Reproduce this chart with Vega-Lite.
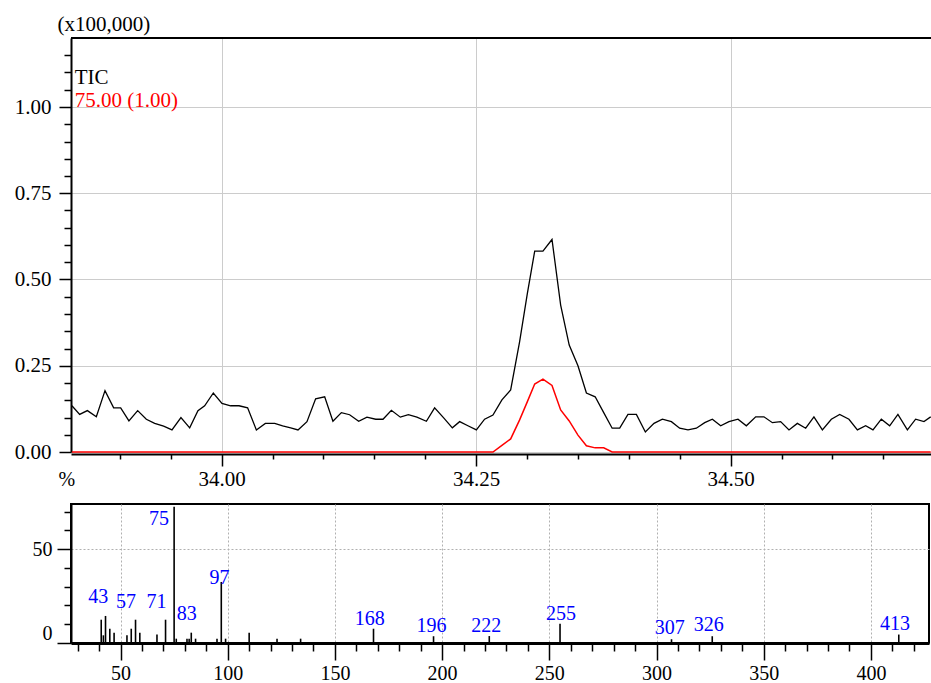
{
  "$schema": "https://vega.github.io/schema/vega-lite/v6.json",
  "autosize": {"type": "pad"},
  "padding": {"left": 14, "top": 13, "right": 0, "bottom": 0},
  "background": "white",
  "bounds": "flush",
  "spacing": 52,
  "config": {
    "font": "Liberation Serif",
    "view": {"stroke": null},
    "axis": {
      "labelFont": "Liberation Serif",
      "titleFont": "Liberation Serif",
      "labelColor": "black",
      "tickColor": "black",
      "domainColor": "black",
      "titleColor": "black",
      "titleFontWeight": "normal",
      "labelOverlap": false,
      "labelFlush": false,
      "domainWidth": 2,
      "tickWidth": 1.5
    }
  },
  "datasets": {
    "chrom": [
      {"t": 33.8529, "tic": 0.134, "ion75": 0},
      {"t": 33.8605, "tic": 0.109, "ion75": 0},
      {"t": 33.8681, "tic": 0.120, "ion75": 0},
      {"t": 33.8769, "tic": 0.102, "ion75": 0},
      {"t": 33.8854, "tic": 0.178, "ion75": 0},
      {"t": 33.8939, "tic": 0.128, "ion75": 0},
      {"t": 33.9008, "tic": 0.128, "ion75": 0},
      {"t": 33.9089, "tic": 0.090, "ion75": 0},
      {"t": 33.9175, "tic": 0.120, "ion75": 0},
      {"t": 33.9260, "tic": 0.095, "ion75": 0},
      {"t": 33.9342, "tic": 0.083, "ion75": 0},
      {"t": 33.9430, "tic": 0.075, "ion75": 0},
      {"t": 33.9512, "tic": 0.064, "ion75": 0},
      {"t": 33.9600, "tic": 0.100, "ion75": 0},
      {"t": 33.9686, "tic": 0.070, "ion75": 0},
      {"t": 33.9767, "tic": 0.120, "ion75": 0},
      {"t": 33.9833, "tic": 0.134, "ion75": 0},
      {"t": 33.9918, "tic": 0.171, "ion75": 0},
      {"t": 34.0003, "tic": 0.141, "ion75": 0},
      {"t": 34.0088, "tic": 0.134, "ion75": 0},
      {"t": 34.0170, "tic": 0.134, "ion75": 0},
      {"t": 34.0255, "tic": 0.128, "ion75": 0},
      {"t": 34.0341, "tic": 0.064, "ion75": 0},
      {"t": 34.0429, "tic": 0.083, "ion75": 0},
      {"t": 34.0521, "tic": 0.083, "ion75": 0},
      {"t": 34.0599, "tic": 0.076, "ion75": 0},
      {"t": 34.0678, "tic": 0.070, "ion75": 0},
      {"t": 34.0750, "tic": 0.064, "ion75": 0},
      {"t": 34.0838, "tic": 0.088, "ion75": 0},
      {"t": 34.0923, "tic": 0.154, "ion75": 0},
      {"t": 34.1012, "tic": 0.160, "ion75": 0},
      {"t": 34.1093, "tic": 0.089, "ion75": 0},
      {"t": 34.1176, "tic": 0.114, "ion75": 0},
      {"t": 34.1257, "tic": 0.108, "ion75": 0},
      {"t": 34.1346, "tic": 0.089, "ion75": 0},
      {"t": 34.1427, "tic": 0.101, "ion75": 0},
      {"t": 34.1513, "tic": 0.095, "ion75": 0},
      {"t": 34.1585, "tic": 0.095, "ion75": 0},
      {"t": 34.1667, "tic": 0.121, "ion75": 0},
      {"t": 34.1755, "tic": 0.101, "ion75": 0},
      {"t": 34.1834, "tic": 0.108, "ion75": 0},
      {"t": 34.1918, "tic": 0.101, "ion75": 0},
      {"t": 34.2011, "tic": 0.089, "ion75": 0},
      {"t": 34.2092, "tic": 0.128, "ion75": 0},
      {"t": 34.2181, "tic": 0.099, "ion75": 0},
      {"t": 34.2266, "tic": 0.070, "ion75": 0},
      {"t": 34.2338, "tic": 0.088, "ion75": 0},
      {"t": 34.2419, "tic": 0.076, "ion75": 0},
      {"t": 34.2502, "tic": 0.064, "ion75": 0},
      {"t": 34.2583, "tic": 0.095, "ion75": 0},
      {"t": 34.2665, "tic": 0.107, "ion75": 0},
      {"t": 34.2753, "tic": 0.151, "ion75": 0.019},
      {"t": 34.2839, "tic": 0.180, "ion75": 0.038},
      {"t": 34.2927, "tic": 0.320, "ion75": 0.093},
      {"t": 34.3003, "tic": 0.460, "ion75": 0.146},
      {"t": 34.3075, "tic": 0.582, "ion75": 0.197},
      {"t": 34.3156, "tic": 0.582, "ion75": 0.211},
      {"t": 34.3245, "tic": 0.616, "ion75": 0.193},
      {"t": 34.3330, "tic": 0.426, "ion75": 0.122},
      {"t": 34.3414, "tic": 0.310, "ion75": 0.090},
      {"t": 34.3500, "tic": 0.250, "ion75": 0.049},
      {"t": 34.3583, "tic": 0.171, "ion75": 0.018},
      {"t": 34.3669, "tic": 0.160, "ion75": 0.012},
      {"t": 34.3753, "tic": 0.114, "ion75": 0.012},
      {"t": 34.3836, "tic": 0.069, "ion75": 0},
      {"t": 34.3910, "tic": 0.069, "ion75": 0},
      {"t": 34.3991, "tic": 0.109, "ion75": 0},
      {"t": 34.4074, "tic": 0.109, "ion75": 0},
      {"t": 34.4162, "tic": 0.058, "ion75": 0},
      {"t": 34.4247, "tic": 0.083, "ion75": 0},
      {"t": 34.4329, "tic": 0.095, "ion75": 0},
      {"t": 34.4418, "tic": 0.088, "ion75": 0},
      {"t": 34.4499, "tic": 0.069, "ion75": 0},
      {"t": 34.4581, "tic": 0.064, "ion75": 0},
      {"t": 34.4663, "tic": 0.069, "ion75": 0},
      {"t": 34.4745, "tic": 0.085, "ion75": 0},
      {"t": 34.4820, "tic": 0.095, "ion75": 0},
      {"t": 34.4902, "tic": 0.076, "ion75": 0},
      {"t": 34.4983, "tic": 0.088, "ion75": 0},
      {"t": 34.5072, "tic": 0.095, "ion75": 0},
      {"t": 34.5154, "tic": 0.076, "ion75": 0},
      {"t": 34.5246, "tic": 0.102, "ion75": 0},
      {"t": 34.5327, "tic": 0.102, "ion75": 0},
      {"t": 34.5410, "tic": 0.085, "ion75": 0},
      {"t": 34.5491, "tic": 0.088, "ion75": 0},
      {"t": 34.5573, "tic": 0.064, "ion75": 0},
      {"t": 34.5655, "tic": 0.083, "ion75": 0},
      {"t": 34.5737, "tic": 0.069, "ion75": 0},
      {"t": 34.5818, "tic": 0.102, "ion75": 0},
      {"t": 34.5901, "tic": 0.064, "ion75": 0},
      {"t": 34.5989, "tic": 0.095, "ion75": 0},
      {"t": 34.6071, "tic": 0.109, "ion75": 0},
      {"t": 34.6162, "tic": 0.095, "ion75": 0},
      {"t": 34.6245, "tic": 0.064, "ion75": 0},
      {"t": 34.6326, "tic": 0.076, "ion75": 0},
      {"t": 34.6398, "tic": 0.064, "ion75": 0},
      {"t": 34.6480, "tic": 0.095, "ion75": 0},
      {"t": 34.6562, "tic": 0.076, "ion75": 0},
      {"t": 34.6643, "tic": 0.109, "ion75": 0},
      {"t": 34.6736, "tic": 0.064, "ion75": 0},
      {"t": 34.6817, "tic": 0.095, "ion75": 0},
      {"t": 34.6899, "tic": 0.088, "ion75": 0},
      {"t": 34.6965, "tic": 0.102, "ion75": 0}
    ],
    "spectrum": [
      {"mz": 41, "intensity": 12.4},
      {"mz": 42, "intensity": 4.1},
      {"mz": 43, "intensity": 14.4},
      {"mz": 45, "intensity": 7.6},
      {"mz": 47, "intensity": 5.5},
      {"mz": 53, "intensity": 4.1},
      {"mz": 55, "intensity": 7.6},
      {"mz": 57, "intensity": 12.4},
      {"mz": 59, "intensity": 5.5},
      {"mz": 67, "intensity": 4.5},
      {"mz": 71, "intensity": 12.4},
      {"mz": 75, "intensity": 72.5},
      {"mz": 76, "intensity": 2.3},
      {"mz": 81, "intensity": 2.3},
      {"mz": 82, "intensity": 2.3},
      {"mz": 83, "intensity": 5.5},
      {"mz": 85, "intensity": 2.3},
      {"mz": 95, "intensity": 2.3},
      {"mz": 97, "intensity": 32.5},
      {"mz": 99, "intensity": 2.3},
      {"mz": 110, "intensity": 5.5},
      {"mz": 123, "intensity": 2.3},
      {"mz": 134, "intensity": 2.3},
      {"mz": 168, "intensity": 7.6},
      {"mz": 196, "intensity": 3.6},
      {"mz": 222, "intensity": 3.7},
      {"mz": 255, "intensity": 10.3},
      {"mz": 307, "intensity": 2.0},
      {"mz": 326, "intensity": 3.6},
      {"mz": 413, "intensity": 4.5}
    ],
    "peakLabels": [
      {"label": "43", "lx": 39.6, "ly": 21.3},
      {"label": "57", "lx": 52.6, "ly": 18.8},
      {"label": "71", "lx": 66.8, "ly": 18.8},
      {"label": "75", "lx": 68.0, "ly": 62.7},
      {"label": "83", "lx": 80.9, "ly": 12.1},
      {"label": "97", "lx": 96.2, "ly": 31.6},
      {"label": "168", "lx": 166.3, "ly": 9.8},
      {"label": "196", "lx": 195.1, "ly": 5.9},
      {"label": "222", "lx": 220.6, "ly": 5.9},
      {"label": "255", "lx": 255.5, "ly": 12.1},
      {"label": "307", "lx": 306.2, "ly": 4.6},
      {"label": "326", "lx": 324.4, "ly": 6.4},
      {"label": "413", "lx": 411.2, "ly": 7.1}
    ]
  },
  "vconcat": [
    {
      "width": 860,
      "height": 414,
      "resolve": {"axis": {"x": "independent", "y": "independent"}},
      "layer": [
        {
          "data": {"name": "chrom"},
          "mark": {"type": "line", "color": "black", "strokeWidth": 1.3},
          "encoding": {
            "x": {
              "field": "t",
              "type": "quantitative",
              "scale": {"domain": [33.852, 34.6968], "nice": false, "zero": false},
              "axis": {
                "orient": "bottom",
                "title": null,
                "offset": 2,
                "values": [34, 34.25, 34.5],
                "format": ".2f",
                "labelOverlap": false,
                "labelFlush": false,
                "labelFontSize": 21,
                "labelPadding": 2,
                "tickSize": 12,
                "grid": true,
                "gridColor": "#cccccc"
              }
            },
            "y": {
              "field": "tic",
              "type": "quantitative",
              "scale": {"domain": [0, 1.2], "nice": false, "zero": true},
              "axis": {
                "orient": "left",
                "title": "(x100,000)",
                "titleAngle": 0,
                "titleAlign": "left",
                "titleBaseline": "alphabetic",
                "titleX": -14,
                "titleY": -8,
                "titleFontSize": 21,
                "values": [0, 0.25, 0.5, 0.75, 1],
                "format": ".2f",
                "labelOverlap": false,
                "labelFlush": false,
                "labelFontSize": 21,
                "labelPadding": 8,
                "tickSize": 12,
                "grid": true,
                "gridColor": "#cccccc"
              }
            }
          }
        },
        {
          "data": {"name": "chrom"},
          "mark": {"type": "line", "color": "#ff0000", "strokeWidth": 1.5},
          "encoding": {
            "x": {
              "field": "t",
              "type": "quantitative",
              "axis": {
                "orient": "bottom",
                "title": null,
                "offset": 2,
                "values": [33.9, 33.95, 34.05, 34.1, 34.15, 34.2, 34.3, 34.35, 34.4, 34.45, 34.55, 34.6, 34.65],
                "labels": false,
                "domain": false,
                "grid": false,
                "tickSize": 5
              }
            },
            "y": {
              "field": "ion75",
              "type": "quantitative",
              "axis": {
                "orient": "left",
                "title": null,
                "values": [0.05, 0.1, 0.15, 0.2, 0.3, 0.35, 0.4, 0.45, 0.55, 0.6, 0.65, 0.7, 0.8, 0.85, 0.9, 0.95, 1.05, 1.1, 1.15],
                "labels": false,
                "domain": false,
                "grid": false,
                "tickSize": 7
              }
            }
          }
        },
        {
          "data": {"values": [{}]},
          "mark": {"type": "rule", "color": "black", "strokeWidth": 2},
          "encoding": {"y": {"datum": 1.2, "type": "quantitative", "axis": null}}
        },
        {
          "data": {"values": [{}]},
          "mark": {"type": "text", "align": "left", "baseline": "alphabetic", "fontSize": 21, "color": "black", "font": "Liberation Serif"},
          "encoding": {
            "x": {"datum": 33.8556, "type": "quantitative", "axis": null},
            "y": {"datum": 1.068, "type": "quantitative", "axis": null},
            "text": {"value": "TIC"}
          }
        },
        {
          "data": {"values": [{}]},
          "mark": {"type": "text", "align": "left", "baseline": "alphabetic", "fontSize": 21, "color": "#ff0000", "font": "Liberation Serif"},
          "encoding": {
            "x": {"datum": 33.8556, "type": "quantitative", "axis": null},
            "y": {"datum": 0.9986, "type": "quantitative", "axis": null},
            "text": {"value": "75.00 (1.00)"}
          }
        }
      ]
    },
    {
      "width": 858,
      "height": 139,
      "view": {"stroke": "black", "strokeWidth": 2},
      "resolve": {"axis": {"x": "independent", "y": "independent"}},
      "layer": [
        {
          "data": {"name": "spectrum"},
          "mark": {"type": "rule", "color": "black", "strokeWidth": 1.6},
          "encoding": {
            "x": {
              "field": "mz",
              "type": "quantitative",
              "scale": {"domain": [26.9, 427.1], "nice": false, "zero": false},
              "axis": {
                "orient": "bottom",
                "title": null,
                "values": [50, 100, 150, 200, 250, 300, 350, 400],
                "format": "d",
                "labelOverlap": false,
                "labelFlush": false,
                "labelFontSize": 20,
                "labelPadding": 3,
                "tickSize": 17,
                "domainWidth": 3,
                "grid": true,
                "gridColor": "#b0b0b0",
                "gridDash": [2, 2]
              }
            },
            "y": {
              "field": "intensity",
              "type": "quantitative",
              "scale": {"domain": [0, 74], "nice": false},
              "axis": {
                "orient": "left",
                "title": "%",
                "titleAngle": 0,
                "titleAlign": "left",
                "titleBaseline": "alphabetic",
                "titleX": -13,
                "titleY": -19,
                "titleFontSize": 20,
                "values": [0, 50],
                "format": "d",
                "labelOverlap": false,
                "labelFontSize": 20,
                "labelPadding": 5,
                "labelFlush": true,
                "labelFlushOffset": 0,
                "tickSize": 14,
                "grid": true,
                "gridColor": "#b0b0b0",
                "gridDash": [2, 2]
              }
            },
            "y2": {"datum": 0}
          }
        },
        {
          "data": {"name": "peakLabels"},
          "mark": {"type": "text", "align": "center", "baseline": "alphabetic", "fontSize": 20, "color": "#0000ff", "font": "Liberation Serif"},
          "encoding": {
            "x": {
              "field": "lx",
              "type": "quantitative",
              "axis": {
                "orient": "bottom",
                "title": null,
                "values": [30, 40, 60, 70, 80, 90, 110, 120, 130, 140, 160, 170, 180, 190, 210, 220, 230, 240, 260, 270, 280, 290, 310, 320, 330, 340, 360, 370, 380, 390, 410, 420],
                "labels": false,
                "domain": false,
                "grid": false,
                "tickSize": 8
              }
            },
            "y": {
              "field": "ly",
              "type": "quantitative",
              "axis": {
                "orient": "left",
                "title": null,
                "values": [10, 20, 30, 40, 60, 70],
                "labels": false,
                "domain": false,
                "grid": false,
                "tickSize": 7
              }
            },
            "text": {"field": "label"}
          }
        }
      ]
    }
  ]
}
